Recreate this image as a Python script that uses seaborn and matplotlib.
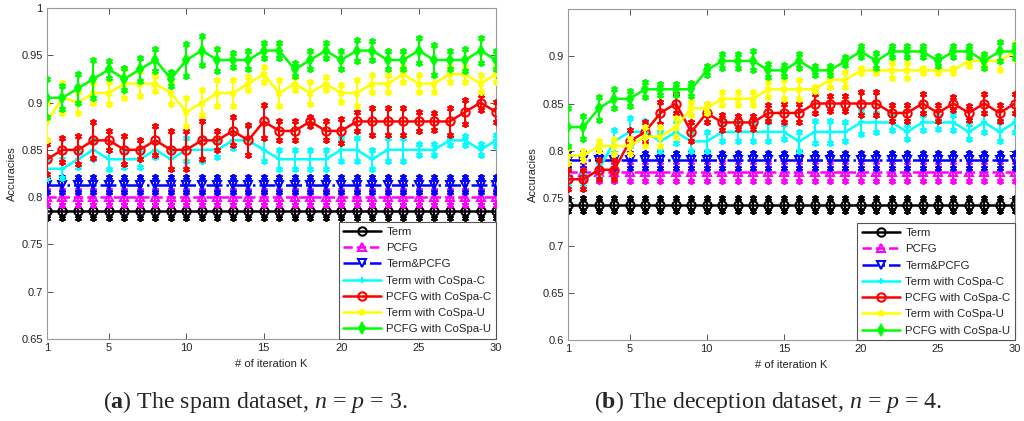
import numpy as np
import pandas as pd
import seaborn as sns
import matplotlib.pyplot as plt

# iterations on the x axis
iters = list(range(1, 31))

# legend names and styles (same order for both panels)
names = ['Term', 'PCFG', 'Term&PCFG', 'Term with CoSpa-C', 'PCFG with CoSpa-C',
         'Term with CoSpa-U', 'PCFG with CoSpa-U']
colors = ['#000000', '#ff00ff', '#0000ff', '#00ffff', '#ff0000', '#ffff00', '#00ff00']
markers = ['o', '^', 'v', '+', 'o', '*', 'd']
styles = ['-', '--', '-.', '-', '-', '-', '-']

# (a) spam dataset
spam_term = [0.785, 0.785, 0.785, 0.785, 0.785, 0.785, 0.785, 0.785, 0.785, 0.785,
             0.785, 0.785, 0.785, 0.785, 0.785, 0.785, 0.785, 0.785, 0.785, 0.785,
             0.785, 0.785, 0.785, 0.785, 0.785, 0.785, 0.785, 0.785, 0.785, 0.785]
spam_pcfg = [0.800, 0.800, 0.800, 0.800, 0.800, 0.800, 0.800, 0.800, 0.800, 0.800,
             0.800, 0.800, 0.800, 0.800, 0.800, 0.800, 0.800, 0.800, 0.800, 0.800,
             0.800, 0.800, 0.800, 0.800, 0.800, 0.800, 0.800, 0.800, 0.800, 0.800]
spam_both = [0.813, 0.813, 0.813, 0.813, 0.813, 0.813, 0.813, 0.813, 0.813, 0.813,
             0.813, 0.813, 0.813, 0.813, 0.813, 0.813, 0.813, 0.813, 0.813, 0.813,
             0.813, 0.813, 0.813, 0.813, 0.813, 0.813, 0.813, 0.813, 0.813, 0.813]
spam_term_c = [0.83, 0.83, 0.84, 0.85, 0.84, 0.84, 0.84, 0.85, 0.84, 0.85,
               0.85, 0.85, 0.86, 0.86, 0.85, 0.84, 0.84, 0.84, 0.84, 0.85,
               0.85, 0.84, 0.85, 0.85, 0.85, 0.85, 0.86, 0.86, 0.85, 0.86]
spam_pcfg_c = [0.84, 0.85, 0.85, 0.86, 0.86, 0.85, 0.85, 0.86, 0.85, 0.85,
               0.86, 0.86, 0.87, 0.86, 0.88, 0.87, 0.87, 0.88, 0.87, 0.87,
               0.88, 0.88, 0.88, 0.88, 0.88, 0.88, 0.88, 0.89, 0.90, 0.89]
spam_term_u = [0.88, 0.905, 0.90, 0.91, 0.91, 0.92, 0.92, 0.92, 0.91, 0.89,
               0.90, 0.91, 0.91, 0.92, 0.93, 0.91, 0.92, 0.91, 0.92, 0.91,
               0.91, 0.92, 0.92, 0.93, 0.92, 0.92, 0.93, 0.93, 0.92, 0.93]
spam_pcfg_u = [0.905, 0.905, 0.915, 0.925, 0.935, 0.925, 0.935, 0.945, 0.925, 0.945,
               0.955, 0.945, 0.945, 0.945, 0.955, 0.955, 0.935, 0.945, 0.955, 0.945,
               0.955, 0.955, 0.945, 0.945, 0.955, 0.945, 0.945, 0.945, 0.955, 0.945]

# error bar half lengths, spam
spam_term_err = [0.007, 0.007, 0.007, 0.007, 0.007, 0.007, 0.007, 0.007, 0.007, 0.007,
                 0.007, 0.007, 0.007, 0.007, 0.007, 0.007, 0.007, 0.007, 0.007, 0.007,
                 0.007, 0.007, 0.007, 0.007, 0.007, 0.007, 0.007, 0.007, 0.007, 0.007]
spam_pcfg_err = [0.008, 0.008, 0.008, 0.008, 0.008, 0.008, 0.008, 0.008, 0.008, 0.008,
                 0.008, 0.008, 0.008, 0.008, 0.008, 0.008, 0.008, 0.008, 0.008, 0.008,
                 0.008, 0.008, 0.008, 0.008, 0.008, 0.008, 0.008, 0.008, 0.008, 0.008]
spam_both_err = [0.008, 0.008, 0.008, 0.008, 0.008, 0.008, 0.008, 0.008, 0.008, 0.008,
                 0.008, 0.008, 0.008, 0.008, 0.008, 0.008, 0.008, 0.008, 0.008, 0.008,
                 0.008, 0.008, 0.008, 0.008, 0.008, 0.008, 0.008, 0.008, 0.008, 0.008]
spam_term_c_err = [0.010, 0.010, 0.008, 0.010, 0.010, 0.008, 0.008, 0.008, 0.010, 0.012,
                   0.012, 0.008, 0.008, 0.015, 0.012, 0.010, 0.010, 0.010, 0.010, 0.012,
                   0.012, 0.010, 0.012, 0.012, 0.006, 0.006, 0.005, 0.005, 0.006, 0.006]
spam_pcfg_c_err = [0.016, 0.013, 0.015, 0.019, 0.010, 0.015, 0.010, 0.015, 0.020, 0.020,
                   0.020, 0.010, 0.015, 0.016, 0.017, 0.010, 0.010, 0.005, 0.010, 0.013,
                   0.010, 0.014, 0.014, 0.014, 0.010, 0.009, 0.014, 0.013, 0.008, 0.011]
spam_term_u_err = [0.020, 0.016, 0.011, 0.011, 0.012, 0.015, 0.013, 0.008, 0.012, 0.015,
                   0.013, 0.014, 0.014, 0.007, 0.008, 0.014, 0.007, 0.012, 0.007, 0.009,
                   0.014, 0.009, 0.009, 0.008, 0.009, 0.009, 0.008, 0.008, 0.009, 0.008]
spam_pcfg_u_err = [0.020, 0.012, 0.015, 0.020, 0.009, 0.012, 0.012, 0.012, 0.007, 0.017,
                   0.015, 0.012, 0.007, 0.009, 0.008, 0.008, 0.007, 0.009, 0.008, 0.009,
                   0.011, 0.010, 0.009, 0.009, 0.013, 0.016, 0.009, 0.012, 0.013, 0.009]

# (b) deception dataset
dec_term = [0.743, 0.743, 0.743, 0.743, 0.743, 0.743, 0.743, 0.743, 0.743, 0.743,
            0.743, 0.743, 0.743, 0.743, 0.743, 0.743, 0.743, 0.743, 0.743, 0.743,
            0.743, 0.743, 0.743, 0.743, 0.743, 0.743, 0.743, 0.743, 0.743, 0.743]
dec_pcfg = [0.778, 0.778, 0.778, 0.778, 0.778, 0.778, 0.778, 0.778, 0.778, 0.778,
            0.778, 0.778, 0.778, 0.778, 0.778, 0.778, 0.778, 0.778, 0.778, 0.778,
            0.778, 0.778, 0.778, 0.778, 0.778, 0.778, 0.778, 0.778, 0.778, 0.778]
dec_both = [0.790, 0.790, 0.790, 0.790, 0.790, 0.790, 0.790, 0.790, 0.790, 0.790,
            0.790, 0.790, 0.790, 0.790, 0.790, 0.790, 0.790, 0.790, 0.790, 0.790,
            0.790, 0.790, 0.790, 0.790, 0.790, 0.790, 0.790, 0.790, 0.790, 0.790]
dec_term_c = [0.77, 0.77, 0.78, 0.81, 0.82, 0.82, 0.81, 0.82, 0.81, 0.81,
              0.82, 0.82, 0.82, 0.82, 0.82, 0.81, 0.82, 0.82, 0.82, 0.83,
              0.83, 0.83, 0.82, 0.83, 0.83, 0.83, 0.82, 0.83, 0.82, 0.83]
dec_pcfg_c = [0.77, 0.77, 0.78, 0.78, 0.81, 0.82, 0.84, 0.85, 0.82, 0.84,
              0.83, 0.83, 0.83, 0.84, 0.84, 0.84, 0.85, 0.85, 0.85, 0.85,
              0.85, 0.84, 0.84, 0.85, 0.84, 0.85, 0.84, 0.85, 0.84, 0.85]
dec_term_u = [0.795, 0.795, 0.805, 0.805, 0.805, 0.815, 0.815, 0.825, 0.845, 0.845,
              0.855, 0.855, 0.855, 0.865, 0.865, 0.865, 0.865, 0.875, 0.875, 0.885,
              0.885, 0.885, 0.885, 0.885, 0.885, 0.885, 0.895, 0.895, 0.895, 0.905]
dec_pcfg_u = [0.825, 0.825, 0.845, 0.855, 0.855, 0.865, 0.865, 0.865, 0.865, 0.885,
              0.895, 0.895, 0.895, 0.885, 0.885, 0.895, 0.885, 0.885, 0.895, 0.905,
              0.895, 0.905, 0.905, 0.905, 0.895, 0.905, 0.905, 0.895, 0.905, 0.905]

# error bar half lengths, deception
dec_term_err = [0.007, 0.007, 0.007, 0.007, 0.007, 0.007, 0.007, 0.007, 0.007, 0.007,
                0.007, 0.007, 0.007, 0.007, 0.007, 0.007, 0.007, 0.007, 0.007, 0.007,
                0.007, 0.007, 0.007, 0.007, 0.007, 0.007, 0.007, 0.007, 0.007, 0.007]
dec_pcfg_err = [0.010, 0.010, 0.010, 0.010, 0.010, 0.010, 0.010, 0.010, 0.010, 0.010,
                0.010, 0.010, 0.010, 0.010, 0.010, 0.010, 0.010, 0.010, 0.010, 0.010,
                0.010, 0.010, 0.010, 0.010, 0.010, 0.010, 0.010, 0.010, 0.010, 0.010]
dec_both_err = [0.008, 0.008, 0.008, 0.008, 0.008, 0.008, 0.008, 0.008, 0.008, 0.008,
                0.008, 0.008, 0.008, 0.008, 0.008, 0.008, 0.008, 0.008, 0.008, 0.008,
                0.008, 0.008, 0.008, 0.008, 0.008, 0.008, 0.008, 0.008, 0.008, 0.008]
dec_term_c_err = [0.005, 0.005, 0.005, 0.012, 0.015, 0.012, 0.010, 0.012, 0.010, 0.010,
                  0.010, 0.010, 0.010, 0.010, 0.008, 0.010, 0.012, 0.012, 0.010, 0.012,
                  0.010, 0.008, 0.007, 0.008, 0.007, 0.008, 0.008, 0.010, 0.010, 0.010]
dec_pcfg_c_err = [0.010, 0.010, 0.010, 0.010, 0.012, 0.010, 0.012, 0.010, 0.010, 0.010,
                  0.008, 0.007, 0.007, 0.008, 0.010, 0.010, 0.010, 0.008, 0.008, 0.012,
                  0.012, 0.008, 0.008, 0.010, 0.008, 0.007, 0.007, 0.010, 0.008, 0.010]
dec_term_u_err = [0.008, 0.005, 0.005, 0.008, 0.008, 0.010, 0.010, 0.010, 0.007, 0.005,
                  0.007, 0.007, 0.007, 0.008, 0.010, 0.010, 0.002, 0.008, 0.008, 0.003,
                  0.003, 0.008, 0.008, 0.003, 0.003, 0.003, 0.005, 0.005, 0.010, 0.008]
dec_pcfg_u_err = [0.020, 0.012, 0.012, 0.010, 0.008, 0.008, 0.006, 0.006, 0.007, 0.005,
                  0.007, 0.007, 0.010, 0.007, 0.006, 0.007, 0.005, 0.005, 0.004, 0.006,
                  0.008, 0.006, 0.006, 0.006, 0.005, 0.006, 0.006, 0.007, 0.010, 0.007]

spam_vals = [spam_term, spam_pcfg, spam_both, spam_term_c, spam_pcfg_c, spam_term_u, spam_pcfg_u]
spam_errs = [spam_term_err, spam_pcfg_err, spam_both_err, spam_term_c_err, spam_pcfg_c_err,
             spam_term_u_err, spam_pcfg_u_err]
dec_vals = [dec_term, dec_pcfg, dec_both, dec_term_c, dec_pcfg_c, dec_term_u, dec_pcfg_u]
dec_errs = [dec_term_err, dec_pcfg_err, dec_both_err, dec_term_c_err, dec_pcfg_c_err,
            dec_term_u_err, dec_pcfg_u_err]

sns.set_theme(style='white')
plt.rcParams['font.family'] = ['Liberation Sans', 'DejaVu Sans']
plt.rcParams['mathtext.fontset'] = 'custom'
plt.rcParams['mathtext.rm'] = 'Liberation Serif'
plt.rcParams['mathtext.it'] = 'Liberation Serif:italic'
plt.rcParams['mathtext.bf'] = 'Liberation Serif:bold'

fig = plt.figure(figsize=(10.24, 4.21), dpi=100)
ax1 = fig.add_axes([0.0459, 0.195, 0.4385, 0.786])
ax2 = fig.add_axes([0.5547, 0.192, 0.4365, 0.787])


def draw_panel(ax, vals, errs, ylim, yticks):
    for i in range(len(names)):
        df = pd.DataFrame({'k': iters, 'acc': vals[i]})
        y = np.array(vals[i])
        e = np.array(errs[i])
        z = 2 + i
        # error bars with asterisk-like end caps
        ax.errorbar(iters, y, yerr=e, fmt='none', ecolor=colors[i], elinewidth=1.5,
                    capsize=0, zorder=z)
        ax.plot(iters, y + e, ls='none', marker=(6, 2, 0), ms=5, mew=1.3,
                color=colors[i], zorder=z)
        ax.plot(iters, y - e, ls='none', marker=(6, 2, 0), ms=5, mew=1.3,
                color=colors[i], zorder=z)
        hollow = markers[i] in ('o', '^', 'v')
        sns.lineplot(data=df, x='k', y='acc', ax=ax, color=colors[i], label=names[i],
                     linestyle=styles[i], linewidth=1.8, marker=markers[i],
                     markersize=6 if hollow else 5,
                     markerfacecolor='none' if hollow else colors[i],
                     markeredgecolor=colors[i], markeredgewidth=1.5, zorder=z + 0.5)
    ax.set_xlim(1, 30)
    ax.set_ylim(*ylim)
    ax.set_xticks([1, 5, 10, 15, 20, 25, 30])
    ax.set_yticks(yticks)
    ax.set_yticklabels([('%g' % t) for t in yticks])
    ax.tick_params(direction='in', length=4, width=0.7, labelsize=8, top=True, right=True,
                   bottom=True, left=True, pad=3, color='#555555')
    for s in ax.spines.values():
        s.set_color('#999999')
        s.set_linewidth(0.8)
    ax.set_xlabel('# of iteration K', fontsize=8, labelpad=4)
    ax.set_ylabel('Accuracies', fontsize=8, labelpad=3)
    leg = ax.legend(loc='lower right', fontsize=8.2, frameon=True, fancybox=False,
                    borderaxespad=0, handlelength=3.3, labelspacing=0.55,
                    borderpad=0.4, handletextpad=0.5)
    leg.get_frame().set_edgecolor('#555555')
    leg.get_frame().set_linewidth(0.8)
    leg.get_frame().set_alpha(1)
    leg.set_zorder(20)


draw_panel(ax1, spam_vals, spam_errs, (0.65, 1.0),
           [0.65, 0.7, 0.75, 0.8, 0.85, 0.9, 0.95, 1.0])
draw_panel(ax2, dec_vals, dec_errs, (0.6, 0.95),
           [0.6, 0.65, 0.7, 0.75, 0.8, 0.85, 0.9])

# sub-figure captions
fig.text(0.249, 0.03, r'($\mathbf{a}$) The spam dataset, $n$ = $p$ = 3.',
         fontsize=17.2, family='Liberation Serif', ha='center')
fig.text(0.75, 0.03, r'($\mathbf{b}$) The deception dataset, $n$ = $p$ = 4.',
         fontsize=17.2, family='Liberation Serif', ha='center')

fig.savefig('out.png', dpi=100)
